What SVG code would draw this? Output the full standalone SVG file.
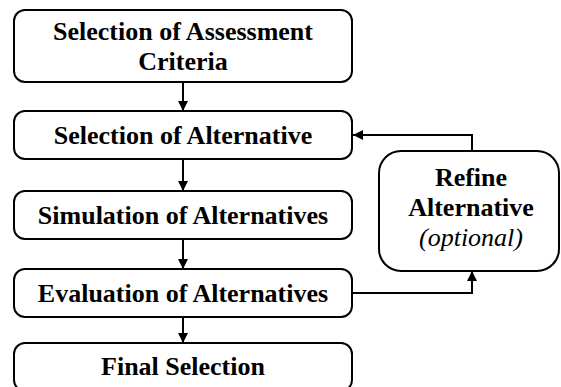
<svg xmlns="http://www.w3.org/2000/svg" width="561" height="387" viewBox="0 0 561 387">
<style>
.box{fill:#fff;stroke:#000;stroke-width:2}
.t{font-family:'Liberation Serif',Tinos,'Times New Roman','DejaVu Serif',serif;font-size:26px;font-weight:bold;text-anchor:middle;fill:#000}
.i{font-family:'Liberation Serif',Tinos,'Times New Roman','DejaVu Serif',serif;font-size:26px;font-style:italic;text-anchor:middle;fill:#000}
.c{fill:none;stroke:#000;stroke-width:2}
</style>
<defs>
<marker id="ah" markerWidth="10" markerHeight="10" viewBox="0 0 10 10" refX="10" refY="5" orient="auto" markerUnits="userSpaceOnUse">
<path d="M0,0 L10,5 L0,10 z" fill="#000"/>
</marker>
</defs>
<rect width="561" height="387" fill="#fff"/>
<g id="connectors">
<line class="c" x1="183" y1="82" x2="183" y2="111" marker-end="url(#ah)"/>
<line class="c" x1="183" y1="159" x2="183" y2="191" marker-end="url(#ah)"/>
<line class="c" x1="183" y1="239" x2="183" y2="269" marker-end="url(#ah)"/>
<line class="c" x1="183" y1="317" x2="183" y2="343" marker-end="url(#ah)"/>
<polyline class="c" points="352,293 472,293 472,271" marker-end="url(#ah)"/>
<polyline class="c" points="472,151 472,135 353,135" marker-end="url(#ah)"/>
</g>
<g id="n1">
<rect class="box" x="14" y="10" width="338" height="72" rx="11"/>
<text class="t" x="183" y="40">Selection of Assessment</text>
<text class="t" x="183" y="70">Criteria</text>
</g>
<g id="n2">
<rect class="box" x="14" y="111" width="338" height="48" rx="11"/>
<text class="t" x="183" y="144">Selection of Alternative</text>
</g>
<g id="n3">
<rect class="box" x="14" y="191" width="338" height="48" rx="11"/>
<text class="t" x="183" y="224">Simulation of Alternatives</text>
</g>
<g id="n4">
<rect class="box" x="14" y="269" width="338" height="48" rx="11"/>
<text class="t" x="183" y="302">Evaluation of Alternatives</text>
</g>
<g id="n5">
<rect class="box" x="14" y="343" width="338" height="48" rx="11"/>
<text class="t" x="183" y="375">Final Selection</text>
</g>
<g id="n6">
<rect class="box" x="379" y="151" width="180" height="120" rx="22"/>
<text class="t" x="471" y="186">Refine</text>
<text class="t" x="471" y="216">Alternative</text>
<text class="i" x="471" y="246">(optional)</text>
</g>
</svg>
